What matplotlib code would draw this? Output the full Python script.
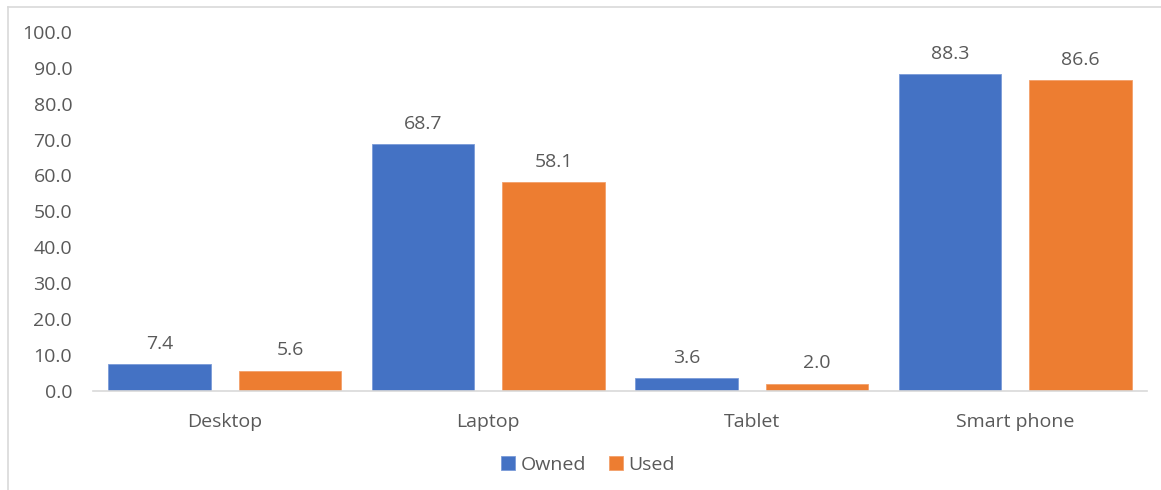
import matplotlib
matplotlib.use("Agg")
import matplotlib.pyplot as plt
import numpy as np
from matplotlib.lines import Line2D

categories = ["Desktop", "Laptop", "Tablet", "Smart phone"]
owned = [7.4, 68.7, 3.6, 88.3]
used = [5.6, 58.1, 2.0, 86.6]
yticks = [0, 10, 20, 30, 40, 50, 60, 70, 80, 90, 100]

plt.rcParams['font.family'] = ['Open Sans', 'DejaVu Sans']
txt = "#595959"
blue = "#4472C4"
orange = "#ED7D31"

W, H = 1161, 490
fig = plt.figure(figsize=(W/100, H/100), dpi=100)
ax = fig.add_axes([93/W, (H-390.7)/H, (1147-93)/W, (390.7-32)/H])

x = np.arange(len(categories))
bw = 0.39
off = 0.248
b1 = ax.bar(x - off, owned, bw, color=blue, edgecolor="#7a9bd8", linewidth=0.6, label="Owned")
b2 = ax.bar(x + off, used, bw, color=orange, edgecolor="#f3a06a", linewidth=0.6, label="Used")

fs = 14
for bars, vals in ((b1, owned), (b2, used)):
    for r, v in zip(bars, vals):
        ax.annotate(f"{v:.1f}", (r.get_x() + r.get_width()/2, v), xytext=(0, 11),
                    textcoords="offset points", ha="center", va="baseline",
                    fontsize=fs, color=txt)

ax.set_xlim(-0.5, len(categories) - 0.5)
ax.set_ylim(0, 100)
ax.set_yticks(yticks)
ax.set_yticklabels([f"{t:.1f}" for t in yticks])
ax.set_xticks(x)
ax.set_xticklabels(categories)
ax.tick_params(axis="y", length=0, pad=15, labelsize=fs, labelcolor=txt)
ax.tick_params(axis="x", length=0, pad=16, labelsize=fs, labelcolor=txt)
for s in ("top", "right", "left"):
    ax.spines[s].set_visible(False)
ax.spines["bottom"].set_color("#d9d9d9")
ax.spines["bottom"].set_linewidth(1.2)

leg = fig.legend(handles=[b1, b2], labels=["Owned", "Used"], loc="center",
                 bbox_to_anchor=(588/W, (H-465)/H), ncol=2, frameon=False,
                 fontsize=fs, handlelength=0.7, handleheight=0.7,
                 handletextpad=0.3, columnspacing=1.2)
for t in leg.get_texts():
    t.set_color(txt)

# outer border (partially visible)
fig.add_artist(Line2D([8/W, 8/W], [0, (H-7)/H], transform=fig.transFigure, color="#d9d9d9", lw=1.2))
fig.add_artist(Line2D([8/W, 1], [(H-7)/H, (H-7)/H], transform=fig.transFigure, color="#d9d9d9", lw=1.2))

fig.savefig("out.png", dpi=100)
